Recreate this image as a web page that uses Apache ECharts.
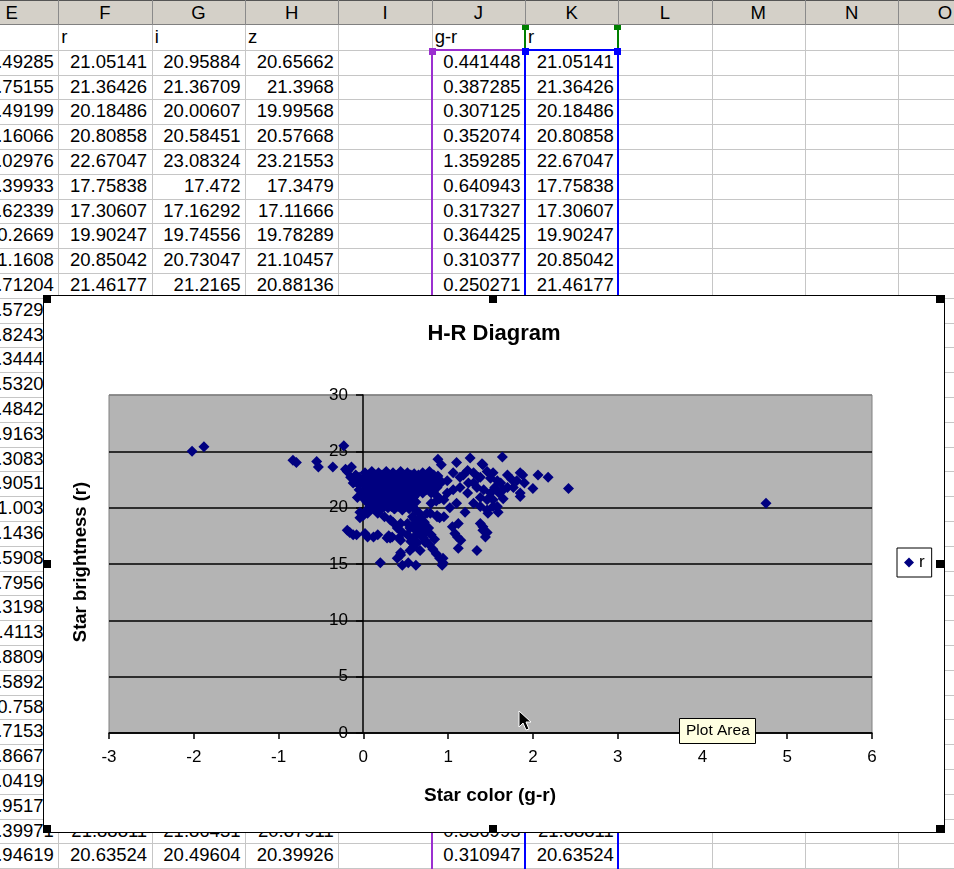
<!DOCTYPE html>
<html><head><meta charset="utf-8">
<script src="https://cdn.jsdelivr.net/npm/echarts@6/dist/echarts.min.js"></script>
<style>
html,body{margin:0;padding:0;width:954px;height:869px;overflow:hidden;background:#fff;font-family:"Liberation Sans",Arial,sans-serif;}
#sheet,#over{position:absolute;left:0;top:0;width:954px;height:869px;overflow:hidden;}
.d{position:absolute;box-sizing:border-box;}
.cell{position:absolute;box-sizing:border-box;font-size:18.5px;line-height:24.8px;height:24.8px;white-space:nowrap;color:#000;}
#chartbox{position:absolute;left:43px;top:295px;width:902px;height:538px;box-sizing:border-box;border:1px solid #000;background:#fff;}
#chart{position:absolute;left:0;top:0;width:954px;height:869px;}
</style></head>
<body>
<div id="sheet"></div>
<div id="chartbox"></div>
<div id="over"></div>
<div id="chart"></div>
<script>
// ---------------- spreadsheet text ----------------
const colLetters = ['E','F','G','H','I','J','K','L','M','N','O'];
const labelRow = ['', 'r', 'i', 'z', '', 'g-r', 'r'];
const colE = ['20.49285','21.75155','20.49199','21.16066','24.02976','18.39933','17.62339','20.2669','21.1608','21.71204',
  '21.57293','20.82437','21.34448','20.53201','21.48425','20.91637','21.30832','20.90513','21.0036','21.14362',
  '20.59084','21.79561','20.31985','21.41137','20.88092','21.58926','20.7584','21.71538','20.86671','21.04193',
  '20.95172','21.39971','20.94619'];
const colF = ['21.05141','21.36426','20.18486','20.80858','22.67047','17.75838','17.30607','19.90247','20.85042','21.46177'];
const colG = ['20.95884','21.36709','20.00607','20.58451','23.08324','17.472','17.16292','19.74556','20.73047','21.2165'];
const colH = ['20.65662','21.3968','19.99568','20.57668','23.21553','17.3479','17.11666','19.78289','21.10457','20.88136'];
const colJ = ['0.441448','0.387285','0.307125','0.352074','1.359285','0.640943','0.317327','0.364425','0.310377','0.250271'];
const colK = ['21.05141','21.36426','20.18486','20.80858','22.67047','17.75838','17.30607','19.90247','20.85042','21.46177'];
const bottomF = ['21.88811','20.63524'];
const bottomG = ['21.86431','20.49604'];
const bottomH = ['20.87911','20.39926'];
const bottomJ = ['0.336993','0.310947'];
const bottomK = ['21.88811','20.63524'];

// ---------------- chart data (g-r, r) ----------------
const tableStars = [[0.441,21.05],[0.387,21.36],[0.307,20.18],[0.352,20.81],[1.359,22.67],[0.641,17.76],
  [0.317,17.31],[0.364,19.90],[0.310,20.85],[0.250,21.46],[0.337,21.89],[0.311,20.64]];
const outliers = [[-2.02,25.0],[-1.88,25.4],[-0.23,25.5],[-0.83,24.2],[-0.79,24.0],[-0.55,24.1],[-0.53,23.6],
  [-0.36,23.6],[-0.21,23.4],[-0.14,23.6],[4.75,20.4],[2.42,21.7],[2.18,22.7],[2.06,22.9],[2.00,21.7]];
const upperRight = [[0.88,24.3],[0.92,23.8],[1.10,24.0],[1.26,24.4],[1.64,24.5],[1.41,23.8],[1.40,23.9],
  [1.88,22.9],[1.85,23.1],[1.81,22.4],[1.77,21.8],[1.85,21.3],[1.85,21.0],[1.70,21.8],[1.65,21.6],[1.62,22.2],
  [1.58,22.4],[1.53,23.1],[1.46,23.2],[1.38,22.7],[1.30,23.1],[1.23,23.3],[1.14,22.7],[1.06,23.1],[0.99,22.4],
  [1.24,22.2],[1.30,22.2],[1.34,21.8],[1.42,21.6],[1.50,21.3],[1.53,20.7],[1.46,20.7],[1.38,20.9],[1.14,21.8],
  [1.06,21.6],[0.99,21.3],[0.95,20.7],[1.10,20.4],[1.23,21.3],[1.30,20.4],[1.38,20.1],[1.46,19.8],[1.53,20.1],
  [1.58,20.1],[1.59,19.6],[1.47,19.5],[1.20,19.6],[1.18,22.9],[1.50,22.6],[1.70,22.9],[1.60,21.3],[1.55,21.8],
  [1.02,20.0],[1.65,20.8],[1.75,22.5],[1.90,22.2]];
const coreBlob = [
  [0.02,23.1],[0.10,23.2],[0.18,23.1],[0.27,23.2],[0.35,23.1],[0.44,23.2],[0.52,23.1],[0.60,23.0],[0.70,23.1],[0.78,23.2],
  [-0.05,22.7],[0.05,22.8],[0.13,22.7],[0.22,22.6],[0.30,22.8],[0.38,22.7],[0.47,22.6],[0.55,22.8],[0.63,22.7],[0.72,22.6],[0.80,22.7],[0.88,22.8],
  [-0.10,22.3],[0.00,22.2],[0.08,22.4],[0.16,22.3],[0.25,22.2],[0.33,22.4],[0.41,22.3],[0.50,22.2],[0.58,22.4],[0.66,22.3],[0.75,22.2],[0.85,22.4],[0.92,22.3],
  [0.03,21.9],[0.11,21.8],[0.20,22.0],[0.28,21.9],[0.36,21.8],[0.45,22.0],[0.53,21.9],[0.61,21.8],[0.70,22.0],[0.79,21.9],[0.87,21.8],
  [0.06,21.5],[0.14,21.4],[0.23,21.6],[0.31,21.5],[0.40,21.4],[0.48,21.6],[0.56,21.5],[0.65,21.4],[0.74,21.6],[0.83,21.5],
  [0.02,21.1],[0.10,21.0],[0.18,21.2],[0.26,21.1],[0.34,21.0],[0.43,21.2],[0.51,21.1],[0.60,21.0],[0.86,21.1],[0.90,20.8],
  [-0.07,20.9],[0.05,20.7],[0.13,20.6],[0.21,20.8],[0.30,20.7],[0.38,20.6],[0.47,20.8],[0.55,20.7],[0.62,20.5],
  [0.08,20.3],[0.16,20.2],[0.25,20.4],[0.33,20.3],[0.42,20.2],[0.50,20.4],[0.58,20.3],[0.80,20.4],[0.86,20.6],
  [-0.04,19.6],[0.04,19.8],[0.12,19.9],[0.20,19.8],[0.29,20.0],[0.37,19.9],[0.46,19.8],[0.54,19.9],[0.62,19.8],
  [-0.12,22.2],[-0.15,22.7],[-0.19,23.2],[-0.09,22.9],[-0.05,21.6],[-0.02,21.0]];
const coreFill = [
  [0.06,22.9],[0.14,22.9],[0.22,22.9],[0.31,22.9],[0.40,22.9],[0.48,22.9],[0.56,22.9],[0.65,22.9],[0.74,22.9],[0.83,22.9],
  [0.01,22.5],[0.09,22.5],[0.18,22.5],[0.26,22.5],[0.34,22.5],[0.43,22.5],[0.51,22.5],[0.60,22.5],[0.69,22.5],[0.78,22.5],[0.89,22.5],
  [-0.06,22.1],[0.04,22.1],[0.12,22.1],[0.21,22.1],[0.29,22.1],[0.37,22.1],[0.46,22.1],[0.54,22.1],[0.62,22.1],[0.71,22.1],[0.80,22.1],[0.90,22.1],
  [0.07,21.7],[0.16,21.7],[0.24,21.7],[0.32,21.7],[0.41,21.7],[0.49,21.7],[0.57,21.7],[0.66,21.7],[0.75,21.7],[0.84,21.7],
  [0.02,21.3],[0.10,21.3],[0.19,21.3],[0.27,21.3],[0.36,21.3],[0.44,21.3],[0.52,21.3],[0.61,21.3],[0.70,21.3],[0.80,21.3],
  [0.01,20.9],[0.09,20.9],[0.17,20.9],[0.25,20.9],[0.34,20.9],[0.42,20.9],[0.51,20.9],[0.59,20.9],
  [0.04,20.5],[0.12,20.5],[0.20,20.5],[0.29,20.5],[0.37,20.5],[0.46,20.5],[0.54,20.5],
  [0.08,20.1],[0.16,20.1],[0.25,20.1],[0.33,20.1],[0.41,20.1],[0.50,20.1],[0.58,20.1]];
const lowerBranch = [[0.00,19.3],[-0.04,19.1],[0.05,19.5],[0.17,19.5],[0.25,19.2],[0.35,18.7],[0.44,18.6],[0.32,18.9],
  [0.52,18.6],[0.55,18.2],[0.58,19.2],[0.66,19.5],[0.75,19.5],[0.87,19.3],[0.90,19.1],[0.64,18.8],[0.70,18.4],
  [0.62,18.0],[0.67,17.7],[0.71,17.3],[0.74,17.0],[0.78,16.7],[0.82,16.3],[0.86,15.9],[0.90,15.5],[0.94,15.1],
  [0.93,14.9],[0.60,17.4],[0.56,17.0],[0.52,17.6],[0.64,16.9],[0.73,16.9],[0.67,16.2],[0.55,16.2],[0.44,16.0],
  [0.40,15.5],[0.46,14.9],[0.53,15.1],[0.62,14.9],[0.20,15.1],[0.34,17.4],[0.30,17.5],[0.42,17.3],[0.17,17.6],
  [0.12,17.4],[0.02,17.7],[-0.08,17.6],[-0.12,17.6],[-0.19,18.0],[-0.16,17.8],[0.46,17.8],[0.40,18.2],[0.80,17.6],
  [0.84,17.2],[1.05,18.3],[1.12,18.6],[1.11,17.4],[1.12,16.4],[1.34,16.2],[1.41,18.3],[1.46,17.8],[1.44,17.4],
  [1.38,18.6],[1.41,18.0],[0.94,15.5],[0.95,19.2],[1.08,17.7],[1.15,17.1],[0.60,19.0],[0.68,19.1],[0.72,18.7],
  [0.77,18.2],[0.58,18.4],[0.66,18.5],[0.75,17.9],[0.70,17.8],[0.59,16.5],[0.44,17.1],[0.28,17.3],[0.05,17.4],
  [0.44,15.8],[0.79,19.5],[0.87,19.2]];

// ---------------- build spreadsheet ----------------
const sheet = document.getElementById('sheet');
const over = document.getElementById('over');
function box(parent, l, t, w, h, bg){ const e=document.createElement('div'); e.className='d';
  e.style.cssText += `left:${l}px;top:${t}px;width:${w}px;height:${h}px;background:${bg};`; parent.appendChild(e); return e; }
function txt(l, t, w, s, align, extra){ const e=document.createElement('div'); e.className='cell';
  e.style.left=l+'px'; e.style.top=t+'px'; e.style.width=w+'px'; e.style.textAlign=align;
  if(align==='right') e.style.paddingRight='4.5px'; else if(align==='left') e.style.paddingLeft='3px';
  if(extra) e.style.cssText += extra; e.textContent=s; sheet.appendChild(e); }
const CW = 93.33, X0 = -35, RH = 24.8, Y0 = 25;
const colX = k => X0 + CW*k;
const rowY = i => Y0 + RH*i;
for (let k=1;k<=10;k++) box(sheet, Math.round(colX(k)), 25, 1, 844, '#c6c6c6');
for (let i=1;i<=34;i++) box(sheet, 0, Math.round(rowY(i)), 954, 1, '#c6c6c6');
box(sheet, 0, 0, 954, 25, '#d4d0c8');
box(sheet, 0, 0, 954, 1, '#555');
box(sheet, 0, 24, 954, 1, '#808080');
for (let k=1;k<=10;k++) box(sheet, Math.round(colX(k)), 0, 1, 25, '#8a8a8a');
colLetters.forEach((c,k)=>{ txt(colX(k), 0, CW, c, 'center', 'line-height:25px;height:25px;'); });
labelRow.forEach((s,k)=>{ if(s) txt(colX(k), rowY(0), CW, s, 'left'); });
colE.forEach((s,i)=> txt(colX(0), rowY(i+1), CW, s, 'right'));
[colF,colG,colH].forEach((col,c)=> col.forEach((s,i)=> txt(colX(c+1), rowY(i+1), CW, s, 'right')));
colJ.forEach((s,i)=> txt(colX(5), rowY(i+1), CW, s, 'right'));
colK.forEach((s,i)=> txt(colX(6), rowY(i+1), CW, s, 'right'));
[bottomF,bottomG,bottomH].forEach((col,c)=> col.forEach((s,i)=> txt(colX(c+1), rowY(32+i), CW, s, 'right')));
bottomJ.forEach((s,i)=> txt(colX(5), rowY(32+i), CW, s, 'right'));
bottomK.forEach((s,i)=> txt(colX(6), rowY(32+i), CW, s, 'right'));
const PUR='#9b30d0', BLU='#0000ff', GRN='#008000';
box(sheet, 431, 49, 2, 820, PUR); box(sheet, 431, 49, 94, 2, PUR);
box(sheet, 524, 49, 2, 820, BLU); box(sheet, 617, 49, 2, 820, BLU); box(sheet, 525, 49, 93, 2, BLU);
box(sheet, 524, 26, 2, 24, GRN); box(sheet, 617, 26, 2, 24, GRN);
box(sheet, 429, 48, 7, 7, PUR); box(sheet, 522, 48, 7, 7, BLU); box(sheet, 614, 48, 7, 7, BLU);
box(sheet, 522, 25, 7, 5, GRN); box(sheet, 614, 25, 7, 5, GRN);
[[43,295],[489,295],[936,295],[43,560],[936,560],[43,825],[489,825],[936,825]].forEach(p=>box(over,p[0],p[1],8,8,'#000'));

// ---------------- chart ----------------
const FF = '"Liberation Sans", Arial, sans-serif';
const chart = echarts.init(document.getElementById('chart'), null, {renderer:'canvas'});
const allStars = [].concat(tableStars, outliers, upperRight, coreBlob, coreFill, lowerBranch);
chart.setOption({
  animation:false,
  backgroundColor:'transparent',
  grid:{left:109, top:395, width:763, height:338, show:true, backgroundColor:'#b4b4b4', borderColor:'#808080', borderWidth:1, containLabel:false},
  xAxis:{type:'value', min:-3, max:6, interval:1,
    axisLine:{show:true, onZero:true, lineStyle:{color:'#000', width:1.5}},
    axisTick:{show:true, length:6, lineStyle:{color:'#000', width:1.5}},
    axisLabel:{show:true, color:'#000', fontSize:17, margin:16, fontFamily:FF, showMinLabel:true, showMaxLabel:true},
    splitLine:{show:false}},
  yAxis:{type:'value', min:0, max:30, interval:5, position:'left', offset:-254,
    axisLine:{show:true, onZero:false, lineStyle:{color:'#000', width:1.5}},
    axisTick:{show:true, length:7, lineStyle:{color:'#000', width:1.5}},
    axisLabel:{show:true, color:'#000', fontSize:17, margin:15, fontFamily:FF, showMinLabel:true, showMaxLabel:true},
    splitLine:{show:true, lineStyle:{color:['#000','#000','#000','#000','#000','#000','#808080'], width:1.5}}},
  legend:{show:true, data:['r'], left:897, top:548, orient:'vertical', icon:'diamond', itemWidth:10, itemHeight:10,
    padding:[6,7,6,7], borderColor:'#000', borderWidth:1, backgroundColor:'#fff', selectedMode:false,
    textStyle:{fontSize:17, color:'#000', fontFamily:FF}},
  series:[{type:'scatter', name:'r', data:allStars, symbol:'diamond', symbolSize:11,
    itemStyle:{color:'#000080', opacity:1}, emphasis:{disabled:true}}],
  graphic:[
    {type:'text', x:494, y:334, z:50, style:{text:'H-R Diagram', font:'bold 22px '+FF, fill:'#000', align:'center', verticalAlign:'middle', textAlign:'center', textVerticalAlign:'middle'}},
    {type:'text', x:490, y:796, z:50, style:{text:'Star color (g-r)', font:'bold 19px '+FF, fill:'#000', align:'center', verticalAlign:'middle', textAlign:'center', textVerticalAlign:'middle'}},
    {type:'text', x:81, y:562, rotation:Math.PI/2, z:50, style:{text:'Star brightness (r)', font:'bold 18.5px '+FF, fill:'#000', align:'center', verticalAlign:'middle', textAlign:'center', textVerticalAlign:'middle'}},
    {type:'rect', z:60, shape:{x:679.5, y:718.5, width:76, height:25}, style:{fill:'#ffffe1', stroke:'#000', lineWidth:1}},
    {type:'text', x:686, y:731, z:61, style:{text:'Plot Area', font:'15.5px '+FF, fill:'#000', align:'left', verticalAlign:'middle', textAlign:'left', textVerticalAlign:'middle'}},
    {type:'polygon', z:70, shape:{points:[[519,711],[519,727],[523,723],[526,730],[529,729],[526,722],[531,722]]}, style:{fill:'#000', stroke:'#fff', lineWidth:1}}
  ]
});
</script>
</body></html>
